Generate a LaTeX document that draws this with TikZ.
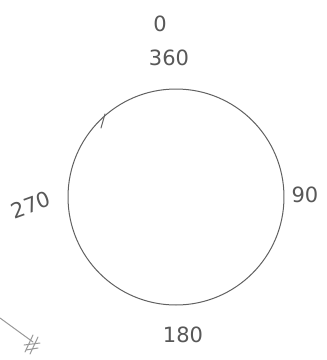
\documentclass[tikz,border=0pt]{standalone}
\usepackage{fontspec}
\setmainfont{DejaVu Sans}
\begin{document}
\begin{tikzpicture}[x=1pt,y=-1pt,
  pencil/.style={draw=black!62,line width=1pt,line cap=round,line join=round},
  lbl/.style={font=\fontsize{21}{21}\selectfont\addfontfeature{Color=585858},inner sep=0pt}]
\useasboundingbox[fill=white] (0,0) rectangle (327,360);
\node[pencil,circle,minimum size=216pt,inner sep=0pt] (c) at (176,197) {};
\draw[pencil] (105,114) -- (101,128);
\node[lbl] (n0) at (160,24) {0};
\node[lbl] (n360) at (169,58) {360};
\node[lbl,rotate=20] (n270) at (31,205) {270};
\node[lbl] (n90) at (305,195) {90};
\node[lbl] (n180) at (183,335) {180};
\coordinate (a0) at (0,318);
\coordinate (a1) at (33,342);
\draw[pencil,black!40] (a0) -- (a1);
\draw[pencil,black!40] (25,352) -- (33,335) (30,354) -- (38,337) (24,345) -- (40,343) (26,350) -- (38,348);
\end{tikzpicture}
\end{document}
